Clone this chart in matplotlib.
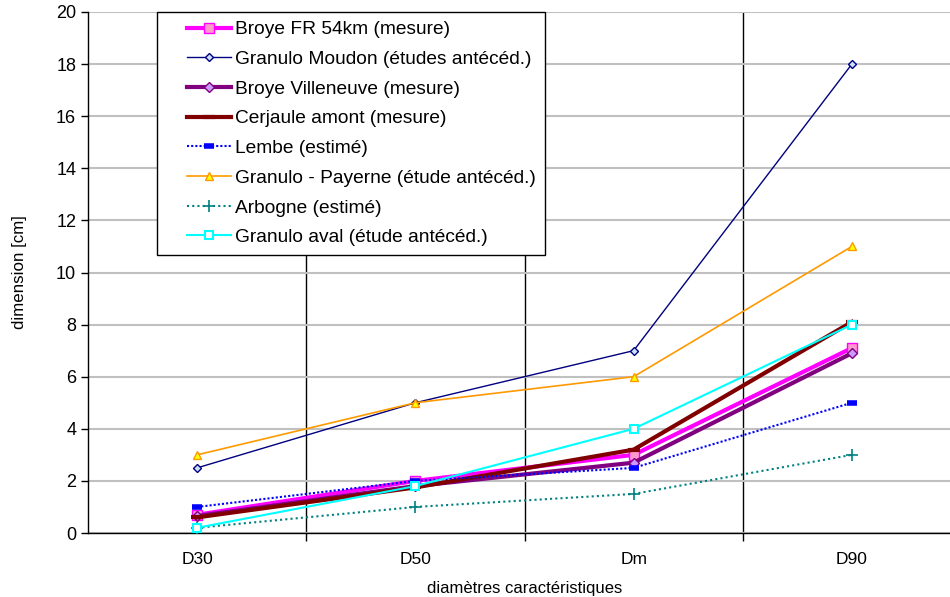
import matplotlib.pyplot as plt
from matplotlib.legend_handler import HandlerLine2D
from matplotlib.ticker import FixedLocator, MultipleLocator

plt.rcParams['font.family'] = ['Liberation Sans', 'DejaVu Sans']

# ── données ────────────────────────────────────────────────
categories = ["D30", "D50", "Dm", "D90"]

broye_fr      = [0.7, 2.0, 3.0, 7.1]
moudon        = [2.5, 5.0, 7.0, 18.0]
villeneuve    = [0.65, 1.8, 2.7, 6.9]
cerjaule      = [0.6, 1.75, 3.2, 8.1]
lembe         = [1.0, 2.0, 2.5, 5.0]
payerne       = [3.0, 5.0, 6.0, 11.0]
arbogne       = [0.2, 1.0, 1.5, 3.0]
aval          = [0.2, 1.8, 4.0, 8.0]

noms = [
    "Broye FR 54km (mesure)",
    "Granulo Moudon (études antécéd.)",
    "Broye Villeneuve (mesure)",
    "Cerjaule amont (mesure)",
    "Lembe (estimé)",
    "Granulo - Payerne (étude antécéd.)",
    "Arbogne (estimé)",
    "Granulo aval (étude antécéd.)",
]
# ───────────────────────────────────────────────────────────


class HandlerDecale(HandlerLine2D):
    """Trait de légende décalé vers la droite (marge à gauche)."""
    def create_artists(self, legend, orig_handle, xdescent, ydescent,
                       width, height, fontsize, trans):
        pad = 15
        return super().create_artists(legend, orig_handle, xdescent - pad,
                                       ydescent, width - pad, height,
                                       fontsize, trans)


fig = plt.figure(figsize=(9.5, 5.97), dpi=100)
ax = fig.add_axes([88 / 950, 64 / 597, 873 / 950, 521 / 597])

x = range(len(categories))

ax.plot(x, broye_fr, color="#FF00FF", lw=3, marker="s", ms=7,
        mfc="#FF99CC", mec="#FF00FF", mew=1, label=noms[0], zorder=3)
ax.plot(x, moudon, color="#000080", lw=1, marker="D", ms=4,
        mfc="#CCE0FF", mec="#000080", mew=1, label=noms[1], zorder=3)
ax.plot(x, villeneuve, color="#800080", lw=3, marker="D", ms=5,
        mfc="#CC99FF", mec="#800080", mew=1, label=noms[2], zorder=3)
ax.plot(x, cerjaule, color="#800000", lw=3, marker="_", ms=8,
        mec="#800000", mew=3, label=noms[3], zorder=3)
ax.plot(x, lembe, color="#0000FF", lw=1.5, ls=(0, (1, 1)), marker="_", ms=7,
        mec="#0000FF", mew=4, label=noms[4], zorder=3)
ax.plot(x, payerne, color="#FF9900", lw=1.2, marker="^", ms=6,
        mfc="#FFFF00", mec="#FF9900", mew=1, label=noms[5], zorder=3)
ax.plot(x, arbogne, color="#008080", lw=1.5, ls=(0, (1, 1.5)), marker="+", ms=8,
        mec="#008080", mew=1.2, label=noms[6], zorder=3)
ax.plot(x, aval, color="#00FFFF", lw=1.5, marker="s", ms=6,
        mfc="white", mec="#00FFFF", mew=1.5, label=noms[7], zorder=3)

# axes
ax.set_xlim(-0.5, len(categories) - 0.5)
ax.set_ylim(0, 20)
ax.yaxis.set_major_locator(MultipleLocator(2))
ax.set_xticks(list(x))
ax.set_xticklabels(categories)
ax.tick_params(axis="x", which="major", length=0, pad=14, labelsize=12.5)
ax.xaxis.set_minor_locator(FixedLocator([0.5, 1.5, 2.5]))
ax.tick_params(axis="x", which="minor", length=6, width=1, color="black")
ax.tick_params(axis="y", length=5, width=1, labelsize=13, direction="out")

ax.grid(axis="y", color="#C0C0C0", lw=1.5, zorder=0)
for xv in [0.5, 1.5, 2.5]:
    ax.axvline(xv, color="black", lw=1, zorder=1)

for s in ["top", "right"]:
    ax.spines[s].set_visible(False)
ax.spines["left"].set_linewidth(1)
ax.spines["bottom"].set_linewidth(1)

ax.set_xlabel("diamètres caractéristiques", fontsize=12, labelpad=10)
ax.set_ylabel("dimension [cm]", fontsize=12.2, labelpad=21)

leg = ax.legend(loc="upper left", bbox_to_anchor=(69 / 873, 1.0),
                fontsize=13.8, frameon=True, fancybox=False,
                edgecolor="black", framealpha=1, borderpad=0.47,
                handlelength=3.4, handletextpad=0.2, labelspacing=0.64,
                borderaxespad=0, handler_map={plt.Line2D: HandlerDecale()})
leg.get_frame().set_linewidth(1)
leg.set_zorder(5)

fig.savefig("out.png", dpi=100, facecolor="white")
